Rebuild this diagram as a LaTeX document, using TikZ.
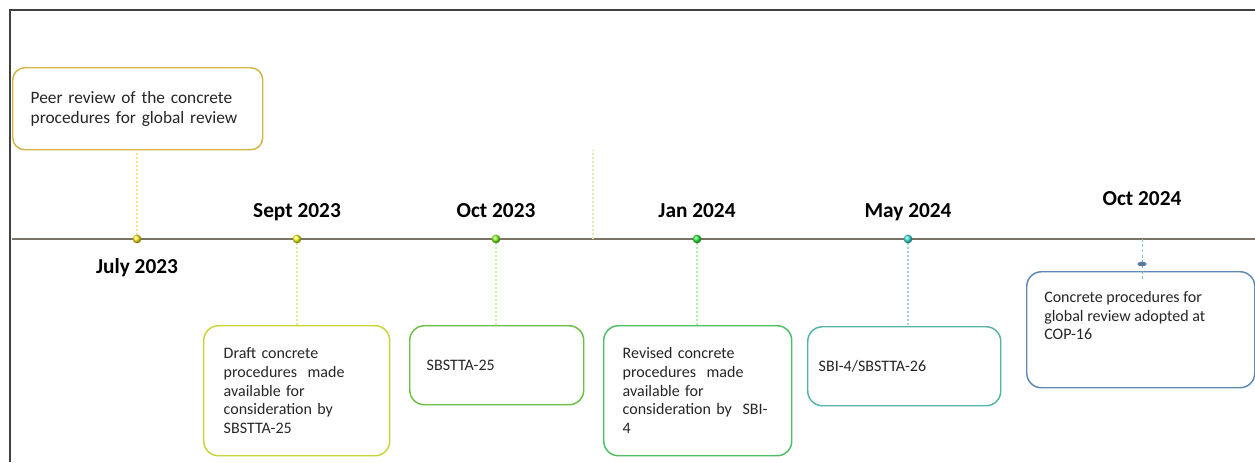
\documentclass[tikz,border=0pt]{standalone}
\usepackage{fontspec}
\setmainfont{Carlito}
\usepackage{xcolor}
\usepackage{tikz}
\usetikzlibrary{positioning, shapes.geometric}

\definecolor{gold}{HTML}{D3B643}
\definecolor{lime}{HTML}{C8D43A}
\definecolor{leaf}{HTML}{6CBE45}
\definecolor{grass}{HTML}{4CBF64}
\definecolor{teal}{HTML}{56B4A6}
\definecolor{steel}{HTML}{6089B2}
\definecolor{axis}{HTML}{7B7466}

\begin{document}
\begin{tikzpicture}[
                x=0.75pt, y=-0.75pt,
                event/.style={draw, rounded corners=11pt, line width=1.1pt, fill=white, anchor=north west, align=left, text=black!85, font=\fontsize{12}{14}\selectfont},
                datelabel/.style={font=\fontsize{16}{18}\selectfont\bfseries, text height=10.5pt, text depth=0pt, inner sep=0pt},
                stem/.style={dash pattern=on 1.6pt off 1.4pt, line width=0.8pt},
                dot/.style={circle, inner sep=0pt, minimum size=6.5pt, shading=ball, ball color=#1}
            ]
                \useasboundingbox (0,0) rectangle (1255,462);
                \draw[black!75, line width=1.1pt] (10,462) -- (10,10) -- (1255,10);
                \draw[axis, line width=1.5pt] (12,239) -- (1255,239);

                % points on the axis
                \coordinate (t1) at (137,239);
                \coordinate (t2) at (297,239);
                \coordinate (t3) at (496,239);
                \coordinate (tm) at (593,239);
                \coordinate (t4) at (697,239);
                \coordinate (t5) at (908,239);
                \coordinate (t6) at (1142,239);

                % event boxes
                \node[event, draw=gold, rounded corners=9pt, inner xsep=13.5pt, text width=160.5pt, minimum height=61.5pt, font=\fontsize{13}{15}\selectfont] (peer) at (12,67) {Peer review of the concrete\\procedures for global review};
                \node[event, draw=lime, inner xsep=15pt, text width=109.5pt, minimum height=97.5pt] (draft) at (203,325) {Draft concrete\\procedures\ \ made\\available for\\consideration by\\SBSTTA-25};
                \node[event, draw=leaf, inner xsep=12.75pt, text width=105pt, minimum height=59.25pt] (sb25) at (409,325) {SBSTTA-25};
                \node[event, draw=grass, inner xsep=14.25pt, text width=112.5pt, minimum height=97.5pt] (revised) at (603,325) {Revised concrete\\procedures\ \ made\\available for\\consideration by\ \ SBI-\\4};
                \node[event, draw=teal, inner xsep=8.25pt, text width=128.25pt, minimum height=59.25pt] (sbi) at (807,326) {SBI-4/SBSTTA-26};
                \node[event, draw=steel, inner sep=0pt, minimum width=171pt, minimum height=87pt] (cop) at (1026,271) {};
                \node[anchor=north west, align=left, inner sep=0pt, text=black!85, font=\fontsize{12}{14}\selectfont] (cop-text) at (1044,291) {Concrete procedures for\\global review adopted at\\COP-16};

                % stems
                \draw[stem, color=yellow!60!orange!45] (t1) -- (t1 |- peer.south);
                \draw[stem, color=yellow!70!green!45] (t2) -- (t2 |- draft.north);
                \draw[stem, color=green!60!yellow!40] (t3) -- (t3 |- sb25.north);
                \draw[stem, color=yellow!60!green!35] (tm) -- ++(0,-89);
                \draw[stem, color=green!70!teal!40] (t4) -- (t4 |- revised.north);
                \draw[stem, color=teal!55] (t5) -- (t5 |- sbi.north);
                \draw[dash pattern=on 2pt off 2pt, line width=0.7pt, color=teal!80] (t6) -- ([yshift=-8pt]t6 |- cop.north);

                % markers
                \node[dot=yellow!85!orange!90!white] (d1) at (t1) {};
                \node[dot=yellow!95!green!90!white] (d2) at (t2) {};
                \node[dot=green!55!yellow!90!white] (d3) at (t3) {};
                \node[dot=green!80!teal!90!white] (d4) at (t4) {};
                \node[dot=cyan!60!teal!90!white] (d5) at (t5) {};
                \node[ellipse, fill=steel!90!black, inner sep=0pt, minimum width=7pt, minimum height=3.5pt] (d6) at (1142,264) {};

                % dates
                \node[datelabel] (july) at (137,266) {July 2023};
                \node[datelabel] (sept) at (297,210) {Sept 2023};
                \node[datelabel] (oct23) at (496,210) {Oct 2023};
                \node[datelabel] (jan) at (697,210) {Jan 2024};
                \node[datelabel] (may) at (908,210) {May 2024};
                \node[datelabel] (oct24) at (1142,198) {Oct 2024};
            \end{tikzpicture}
\end{document}
